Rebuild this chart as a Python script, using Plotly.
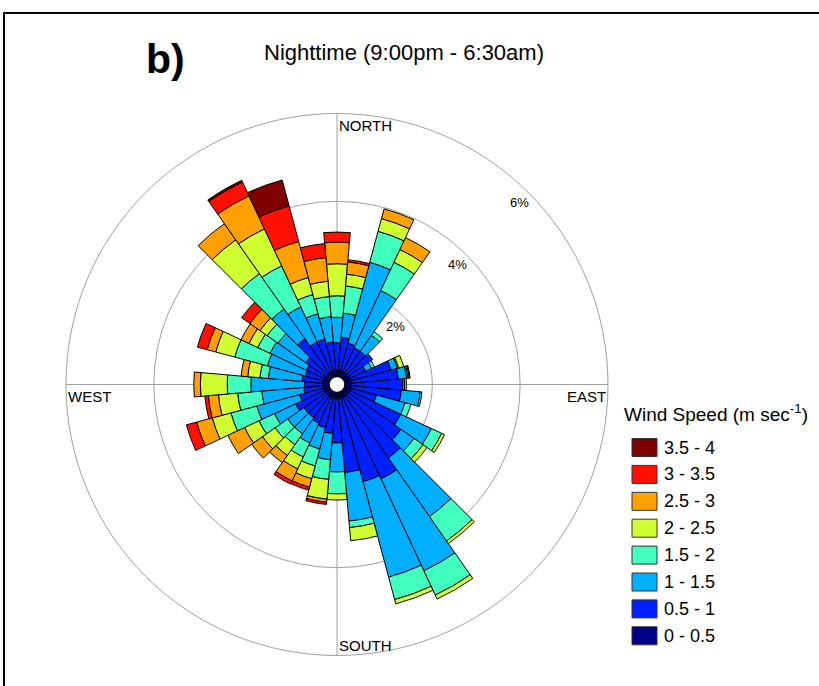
import math
import plotly.graph_objects as go

W, H = 819, 686

directions = list(range(0, 360, 10))

speed_labels = ["0 - 0.5", "0.5 - 1", "1 - 1.5", "1.5 - 2", "2 - 2.5", "2.5 - 3", "3 - 3.5", "3.5 - 4"]
speed_colors = ["#00008C", "#0020FF", "#00AFFF", "#40FFBF", "#CFFF30", "#FF9F00", "#FF1000", "#800000"]

# frequency (%) per direction (0,10,...,350) for each speed class
f_00_05 = [0.15] * 36
f_05_10 = [0.63, 0.76, 0.65, 0.60, 0.60, 0.67, 0.40, 0.95, 1.08, 1.18, 1.15, 0.61,
           1.28, 1.46, 1.72, 2.05, 1.97, 1.69, 1.01, 0.80, 0.70, 0.65, 0.60, 0.60,
           0.72, 0.56, 0.44, 0.42, 0.48, 0.43, 0.45, 0.55, 0.95, 0.75, 0.75, 0.65]
f_10_15 = [0.58, 0.55, 1.91, 1.44, 0.45, 0.00, 0.15, 0.15, 0.19, 0.04, 0.43, 0.67,
           0.77, 0.36, 1.63, 2.31, 2.25, 1.11, 0.66, 0.60, 0.50, 0.50, 0.45, 0.45,
           0.53, 1.01, 0.96, 1.22, 0.77, 0.89, 0.91, 0.77, 0.83, 0.88, 0.60, 0.58]
f_15_20 = [0.49, 0.62, 0.73, 0.71, 0.10, 0.00, 0.07, 0.03, 0.03, 0.04, 0.04, 0.14,
           0.26, 0.25, 0.68, 0.61, 0.53, 0.15, 0.50, 0.45, 0.40, 0.35, 0.30, 0.35,
           0.39, 0.61, 0.55, 0.54, 0.19, 0.77, 0.31, 0.30, 0.98, 1.03, 0.45, 0.46]
f_20_25 = [0.73, 0.27, 0.30, 0.32, 0.00, 0.00, 0.00, 0.12, 0.03, 0.00, 0.00, 0.00,
           0.07, 0.11, 0.07, 0.10, 0.10, 0.30, 0.14, 0.45, 0.30, 0.30, 0.30, 0.35,
           0.36, 0.44, 0.44, 0.61, 0.28, 0.45, 0.22, 0.20, 0.94, 0.93, 0.40, 0.35]
f_25_30 = [0.49, 0.28, 0.23, 0.30, 0.00, 0.00, 0.00, 0.00, 0.02, 0.00, 0.00, 0.00,
           0.00, 0.00, 0.00, 0.00, 0.00, 0.00, 0.00, 0.07, 0.20, 0.30, 0.20, 0.30,
           0.42, 0.37, 0.23, 0.15, 0.15, 0.20, 0.20, 0.28, 0.45, 0.83, 0.85, 0.54]
f_30_35 = [0.23, 0.05, 0.00, 0.00, 0.00, 0.00, 0.00, 0.00, 0.00, 0.00, 0.00, 0.00,
           0.00, 0.00, 0.00, 0.00, 0.00, 0.00, 0.00, 0.05, 0.07, 0.08, 0.00, 0.00,
           0.00, 0.24, 0.08, 0.00, 0.00, 0.23, 0.00, 0.23, 0.00, 0.35, 0.84, 0.32]
f_35_40 = [0.00] * 33 + [0.04, 0.61, 0.00]

series = [f_00_05, f_05_10, f_10_15, f_15_20, f_20_25, f_25_30, f_30_35, f_35_40]

ring_values = [2, 4, 6]
ring_labels = ["2%", "4%", "6%"]
compass_labels = ["NORTH", "EAST", "SOUTH", "WEST"]

FONT = "Liberation Sans, Arial, sans-serif"

fig = go.Figure()
for vals, lab, col in zip(series, speed_labels, speed_colors):
    fig.add_trace(go.Barpolar(
        r=vals, theta=directions, width=[10] * 36, name=lab,
        marker=dict(color=col, line=dict(color="black", width=1)),
        showlegend=False, hoverinfo="skip",
    ))

# polar geometry (pixels)
cx, cy, R, hole_px = 337.0, 384.5, 271.0, 7.5
rmax = 6.0
dom_x = [(cx - R) / W, (cx + R) / W]
dom_y = [(H - cy - R) / H, (H - cy + R) / H]

fig.update_layout(
    width=W, height=H,
    margin=dict(l=0, r=0, t=0, b=0),
    paper_bgcolor="white", plot_bgcolor="white",
    font=dict(family=FONT, color="black"),
    polar=dict(
        domain=dict(x=dom_x, y=dom_y),
        hole=hole_px / R,
        bgcolor="rgba(0,0,0,0)",
        barmode="stack",
        radialaxis=dict(range=[0, rmax], tickvals=ring_values, showticklabels=False,
                        ticks="", showline=False, gridcolor="#a0a0a0", gridwidth=1,
                        layer="below traces"),
        angularaxis=dict(rotation=90, direction="clockwise", tickvals=[0, 90, 180, 270],
                         showticklabels=False, ticks="", showgrid=True,
                         gridcolor="#a0a0a0", gridwidth=1, showline=True,
                         linecolor="#a0a0a0", linewidth=1, layer="below traces"),
    ),
)


def px2paper(x, y):
    return x / W, 1 - y / H


ann = []
for v, t in zip(ring_values, ring_labels):
    rp = hole_px + v * (R - hole_px) / rmax - 13
    x = cx + rp * math.sin(math.radians(45))
    y = cy - rp * math.cos(math.radians(45))
    xp, yp = px2paper(x, y)
    ann.append(dict(x=xp, y=yp, xref="paper", yref="paper", text=t, showarrow=False,
                    font=dict(size=13, family=FONT), bgcolor="white", borderpad=0,
                    xanchor="center", yanchor="middle"))

# compass labels
pos = {
    "NORTH": (cx + 1, cy - R + 3, "left", "top"),
    "SOUTH": (cx + 1, cy + R - 1, "left", "bottom"),
    "WEST": (cx - R + 1, cy + 2, "left", "top"),
    "EAST": (cx + R - 1, cy + 2, "right", "top"),
}
for lab in compass_labels:
    x, y, xa, ya = pos[lab]
    xp, yp = px2paper(x, y)
    ann.append(dict(x=xp, y=yp, xref="paper", yref="paper", text=lab, showarrow=False,
                    font=dict(size=15, family=FONT), xanchor=xa, yanchor=ya, borderpad=0))

# titles
xp, yp = px2paper(165, 59)
ann.append(dict(x=xp, y=yp, xref="paper", yref="paper", text="<b>b)</b>", showarrow=False,
                font=dict(size=41, family=FONT), xanchor="center", yanchor="middle"))
xp, yp = px2paper(262, 52)
ann.append(dict(x=xp, y=yp, xref="paper", yref="paper", text="Nighttime (9:00pm - 6:30am)",
                showarrow=False, font=dict(size=22, family=FONT), xanchor="left", yanchor="middle"))

# legend (manual)
shapes = []
xp, yp = px2paper(622, 413)
ann.append(dict(x=xp, y=yp, xref="paper", yref="paper",
                text="Wind Speed (m sec<sup>-1</sup>)", showarrow=False,
                font=dict(size=19, family=FONT), xanchor="left", yanchor="middle"))
for i, (lab, col) in enumerate(zip(speed_labels[::-1], speed_colors[::-1])):
    yc = 447.5 + 26.9 * i
    x0, y0 = px2paper(632, yc - 9)
    x1, y1 = px2paper(657, yc + 9)
    shapes.append(dict(type="rect", xref="paper", yref="paper", x0=x0, y0=y1, x1=x1, y1=y0,
                       fillcolor=col, line=dict(color="#333333", width=1)))
    xp, yp = px2paper(662, yc)
    ann.append(dict(x=xp, y=yp, xref="paper", yref="paper", text=lab, showarrow=False,
                    font=dict(size=18, family=FONT), xanchor="left", yanchor="middle"))

# outer frame
x0, y0 = px2paper(4, 13)
shapes.append(dict(type="rect", xref="paper", yref="paper", x0=x0, y0=-0.05, x1=1.05, y1=y0,
                   line=dict(color="black", width=2), fillcolor="rgba(0,0,0,0)"))

fig.update_layout(annotations=ann, shapes=shapes)
fig.write_html("out.html", config={"displayModeBar": False},
               post_script="document.body.style.margin='0px';document.body.style.overflow='hidden';")
